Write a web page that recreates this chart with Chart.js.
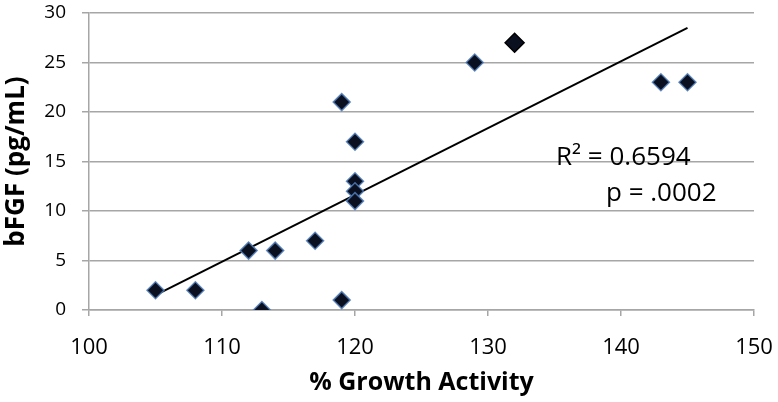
<!DOCTYPE html>
<html>
<head>
<meta charset="utf-8">
<script src="https://cdn.jsdelivr.net/npm/chart.js@4"></script>
<style>
  html, body { margin: 0; padding: 0; background: #fff; }
  #wrap { width: 778px; height: 402px; }
</style>
</head>
<body>
<div id="wrap"><canvas id="scatterChart" width="778" height="402"></canvas></div>
<script>
// values
var growth = [105, 108, 112, 113, 114, 117, 119, 119, 120, 120, 120, 120, 129, 132, 143, 145];
var bfgf = [2, 2, 6, 0, 6, 7, 21, 1, 17, 13, 12, 11, 25, 27, 23, 23];
var trendX = [105, 145];
var trendY = [1.5, 28.5];
var xTicks = [100, 110, 120, 130, 140, 150];
var yTicks = [0, 5, 10, 15, 20, 25, 30];
var statsText = ["R\u00b2 = 0.6594", "p = .0002"];
var xTitle = "% Growth Activity";
var yTitle = "bFGF (pg/mL)";

var fontName = "'Open Sans', sans-serif";
var gridGray = "#a6a6a6";

function each(arr, fn) {
    for (var i = 0; i < arr.length; i++) fn(i, arr[i]);
}

var points = [];
each(growth, function (i, x) { points.push({ x: x, y: bfgf[i] }); });

var trend = [];
each(trendX, function (i, x) { trend.push({ x: x, y: trendY[i] }); });

// the point at 132 is plain black and a bit bigger
var borderColors = [];
var radii = [];
each(growth, function (i, x) {
    if (x === 132) {
        borderColors.push("#000");
        radii.push(9.5);
    } else {
        borderColors.push("rgba(80, 125, 185, 0.85)");
        radii.push(8.5);
    }
});

var statsPlugin = {
    id: "statsPlugin",
    afterDraw: function (chart) {
        var ctx = chart.ctx;
        ctx.save();
        ctx.fillStyle = "#000";
        ctx.font = "26px " + fontName;
        ctx.textAlign = "left";
        ctx.textBaseline = "alphabetic";
        ctx.fillText(statsText[0], 556, 165);
        ctx.fillText(statsText[1], 606, 201);
        ctx.restore();
    }
};

var ctx = document.getElementById("scatterChart").getContext("2d");
var chart = new Chart(ctx, {
    type: "scatter",
    data: {
        datasets: [
            {
                label: "bFGF",
                data: points,
                pointStyle: "rectRot",
                pointRadius: radii,
                pointHoverRadius: radii,
                backgroundColor: "#0a1020",
                borderColor: borderColors,
                borderWidth: 1.5
            },
            {
                type: "line",
                label: "Trend",
                data: trend,
                borderColor: "#000",
                borderWidth: 2,
                pointRadius: 0,
                fill: false
            }
        ]
    },
    options: {
        responsive: false,
        animation: false,
        layout: {
            padding: { left: 0, right: 24, top: 13, bottom: 0 }
        },
        plugins: {
            legend: { display: false },
            tooltip: { enabled: false }
        },
        scales: {
            x: {
                type: "linear",
                min: 100,
                max: 150,
                afterBuildTicks: function (scale) {
                    scale.ticks = xTicks.map(function (v) { return { value: v }; });
                },
                afterFit: function (scale) {
                    scale.height = 92;
                    scale.paddingLeft = 0;
                    scale.paddingRight = 0;
                },
                grid: {
                    drawOnChartArea: false,
                    drawTicks: true,
                    tickLength: 6,
                    color: gridGray,
                    lineWidth: 1.5
                },
                border: { display: true, color: gridGray, width: 1.5 },
                ticks: {
                    color: "#000",
                    padding: 19,
                    font: { family: fontName, size: 22 }
                },
                title: {
                    display: true,
                    text: xTitle,
                    color: "#000",
                    font: { family: fontName, size: 25, weight: "bold" },
                    padding: { top: 0, bottom: 4 }
                }
            },
            y: {
                type: "linear",
                min: 0,
                max: 30,
                afterBuildTicks: function (scale) {
                    scale.ticks = yTicks.map(function (v) { return { value: v }; });
                },
                afterFit: function (scale) {
                    scale.width = 89;
                    scale.paddingTop = 0;
                    scale.paddingBottom = 0;
                },
                grid: {
                    drawTicks: true,
                    tickLength: 7,
                    color: gridGray,
                    lineWidth: 1.5
                },
                border: { display: true, color: gridGray, width: 1.5 },
                ticks: {
                    color: "#000",
                    padding: 16,
                    font: { family: fontName, size: 19 }
                },
                title: {
                    display: true,
                    text: yTitle,
                    color: "#000",
                    font: { family: fontName, size: 26, weight: "bold" },
                    padding: { top: 1, bottom: 0 }
                }
            }
        }
    },
    plugins: [statsPlugin]
});
</script>
</body>
</html>
